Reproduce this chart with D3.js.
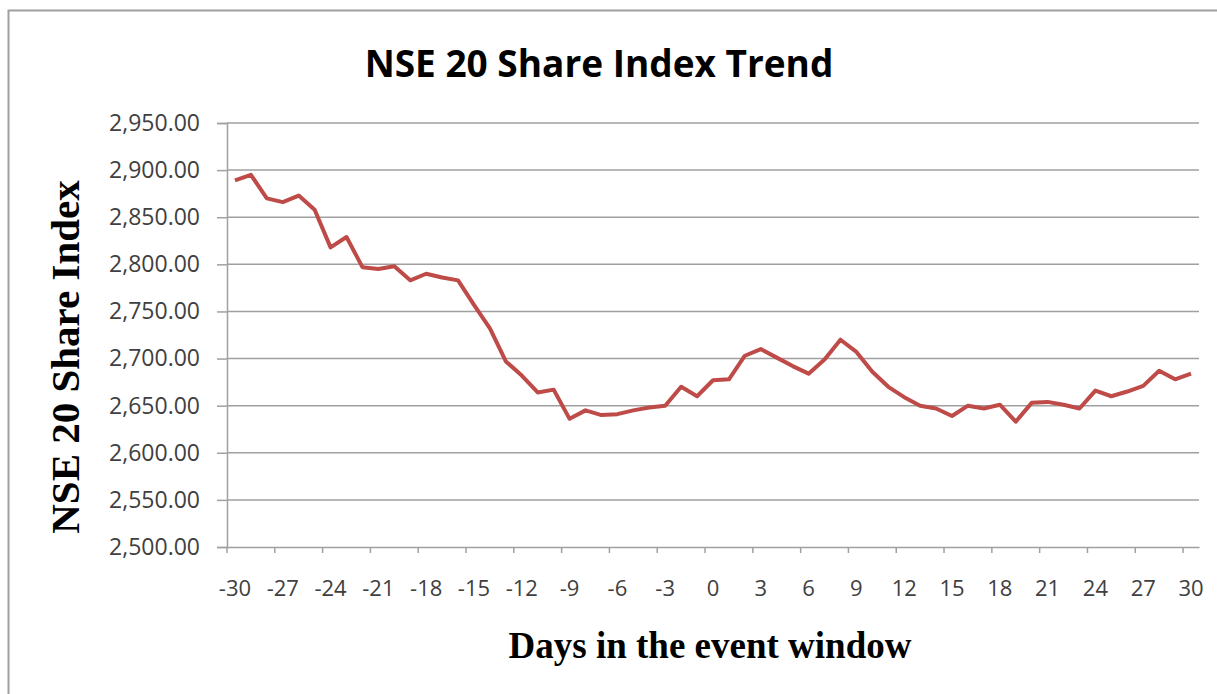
<!DOCTYPE html>
<html>
<head>
<meta charset="utf-8">
<script src="https://cdn.jsdelivr.net/npm/d3@7"></script>
<style>
  html, body { margin: 0; padding: 0; background: #fff; }
  svg { display: block; }
</style>
</head>
<body>
<svg id="chart" width="1217" height="694"></svg>
<script>
const title = "NSE 20 Share Index Trend";
const yTitle = "NSE 20 Share Index";
const xTitle = "Days in the event window";

const days = [-30, -29, -28, -27, -26, -25, -24, -23, -22, -21, -20, -19, -18, -17, -16,
  -15, -14, -13, -12, -11, -10, -9, -8, -7, -6, -5, -4, -3, -2, -1, 0,
  1, 2, 3, 4, 5, 6, 7, 8, 9, 10, 11, 12, 13, 14, 15,
  16, 17, 18, 19, 20, 21, 22, 23, 24, 25, 26, 27, 28, 29, 30];

const indexValues = [2889, 2895, 2870, 2866, 2873, 2858, 2818, 2829, 2797, 2795, 2798, 2783, 2790, 2786, 2783,
  2757, 2732, 2697, 2682, 2664, 2667, 2636, 2645, 2640, 2641, 2645, 2648, 2650, 2670, 2660, 2677,
  2678, 2703, 2710, 2701, 2692, 2684, 2699, 2720, 2707, 2686, 2670, 2659, 2650, 2647, 2639,
  2650, 2647, 2651, 2633, 2653, 2654, 2651, 2647, 2666, 2660, 2665, 2671, 2687, 2678, 2684];

const yTicks = [2500, 2550, 2600, 2650, 2700, 2750, 2800, 2850, 2900, 2950];
const xTickDays = [-30, -27, -24, -21, -18, -15, -12, -9, -6, -3, 0, 3, 6, 9, 12, 15, 18, 21, 24, 27, 30];

const svg = d3.select("#chart");
const plotLeft = 227, plotRight = 1199, plotTop = 123, plotBottom = 547;
const gray = "#a0a0a0";
const labelFont = "'Open Sans', sans-serif";

// outer frame (only left/top visible)
svg.append("rect")
  .attr("x", 8.5).attr("y", 10.5)
  .attr("width", 1240).attr("height", 720)
  .attr("fill", "none").attr("stroke", "#a0a0a0").attr("stroke-width", 2);

const x = d3.scaleBand().domain(days).range([plotLeft, plotRight]).padding(0);
const y = d3.scaleLinear().domain([2500, 2950]).range([plotBottom, plotTop]);

// gridlines
svg.append("g")
  .selectAll("line")
  .data(yTicks.slice(1))
  .join("line")
  .attr("x1", plotLeft).attr("x2", plotRight)
  .attr("y1", d => y(d)).attr("y2", d => y(d))
  .attr("stroke", gray).attr("stroke-width", 1.5);

// y axis
const yAxis = svg.append("g")
  .attr("transform", `translate(${plotLeft},0)`)
  .call(d3.axisLeft(y).tickValues(yTicks).tickSize(10).tickPadding(17).tickFormat(d3.format(",.2f")));
yAxis.select(".domain").attr("stroke", gray).attr("stroke-width", 1.5);
yAxis.selectAll(".tick line").attr("stroke", gray).attr("stroke-width", 1.5);
yAxis.selectAll(".tick text")
  .attr("font-family", labelFont).attr("font-size", 23).attr("fill", "#404040");

// x axis line and labels
const xAxis = svg.append("g")
  .attr("transform", `translate(0,${plotBottom})`)
  .call(d3.axisBottom(x).tickValues(xTickDays).tickSize(0).tickPadding(33).tickSizeOuter(0));
xAxis.select(".domain").attr("stroke", gray).attr("stroke-width", 1.5);
xAxis.selectAll(".tick text")
  .attr("font-family", labelFont).attr("font-size", 22).attr("fill", "#404040");

// x tick marks sit on category boundaries
svg.append("g")
  .selectAll("line")
  .data(xTickDays)
  .join("line")
  .attr("x1", d => x(d)).attr("x2", d => x(d))
  .attr("y1", plotBottom).attr("y2", plotBottom + 6)
  .attr("stroke", gray).attr("stroke-width", 1.5);

// series line
const line = d3.line()
  .x((d, i) => x(days[i]) + x.bandwidth() / 2)
  .y(d => y(d));

svg.append("path")
  .datum(indexValues)
  .attr("d", line)
  .attr("fill", "none")
  .attr("stroke", "#be4b48")
  .attr("stroke-width", 4)
  .attr("stroke-linejoin", "round");

// titles
svg.append("text")
  .attr("x", 599).attr("y", 77)
  .attr("text-anchor", "middle")
  .attr("font-family", labelFont).attr("font-weight", "bold").attr("font-size", 37)
  .attr("fill", "#000")
  .text(title);

svg.append("text")
  .attr("transform", "translate(79,357) rotate(-90)")
  .attr("text-anchor", "middle")
  .attr("font-family", "'Liberation Serif', serif").attr("font-weight", "bold").attr("font-size", 41)
  .attr("fill", "#000")
  .text(yTitle);

svg.append("text")
  .attr("x", 710).attr("y", 658)
  .attr("text-anchor", "middle")
  .attr("font-family", "'Liberation Serif', serif").attr("font-weight", "bold").attr("font-size", 37)
  .attr("fill", "#000")
  .text(xTitle);
</script>
</body>
</html>
